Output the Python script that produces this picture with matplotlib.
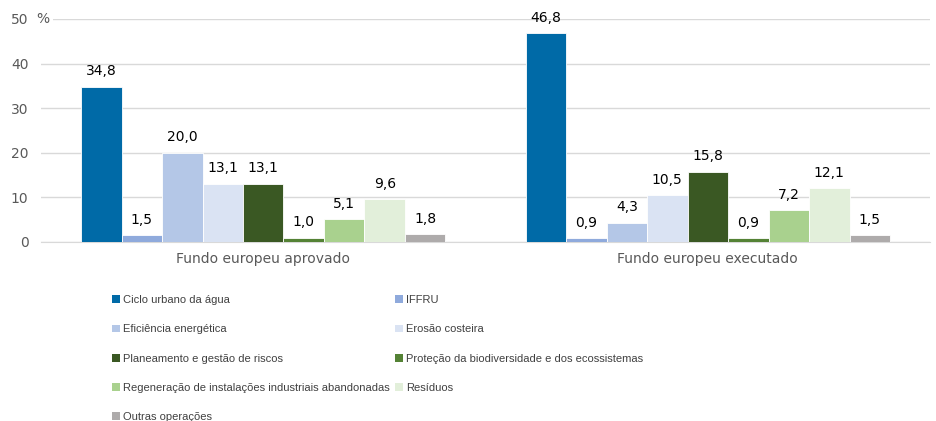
# Fundo europeu aprovado vs executado, por tipologia (%)
import numpy as np
import matplotlib.pyplot as plt
from matplotlib.patches import Patch

# Data
groups = ["Fundo europeu aprovado", "Fundo europeu executado"]
series = ["Ciclo urbano da água", "IFFRU", "Eficiência energética", "Erosão costeira",
          "Planeamento e gestão de riscos", "Proteção da biodiversidade e dos ecossistemas",
          "Regeneração de instalações industriais abandonadas", "Resíduos", "Outras operações"]
aprovado = [34.8, 1.5, 20.0, 13.1, 13.1, 1.0, 5.1, 9.6, 1.8]
executado = [46.8, 0.9, 4.3, 10.5, 15.8, 0.9, 7.2, 12.1, 1.5]
colors = ["#006AA7", "#8FAADC", "#B4C7E7", "#DAE3F3", "#3A5823",
          "#548235", "#A9D18E", "#E2EFDA", "#AEABAB"]

values = np.array([aprovado, executado])  # shape (groups, series)

fig = plt.figure(figsize=(9.36, 4.21), dpi=100)
ax = fig.add_axes([0.0438, 0.4252, 0.9498, 0.5297])

x = np.arange(len(groups))
n = len(series)
w = 0.82 / n
handles = []
for i, name in enumerate(series):
    pos = x - 0.41 + w * (i + 0.5)
    bars = ax.bar(pos, values[:, i], width=w, color=colors[i], edgecolor="white",
                  linewidth=0.6, zorder=3)
    for b, v in zip(bars, values[:, i]):
        ax.annotate(f"{v:.1f}".replace(".", ","), (b.get_x() + b.get_width() / 2, v),
                    xytext=(0, 6), textcoords="offset points", ha="center", va="bottom",
                    fontsize=10, color="#000000")
    handles.append(Patch(facecolor=colors[i], label=name))

ax.set_xlim(-0.5, 1.5)
ax.set_ylim(0, 50)
ax.set_yticks(range(0, 51, 10))
ax.yaxis.grid(True, color="#D9D9D9", linewidth=1, zorder=0)
ax.set_xticks(x)
ax.set_xticklabels(groups)
ax.tick_params(axis="both", length=0, labelsize=10, labelcolor="#595959")
ax.tick_params(axis="x", pad=7)
ax.tick_params(axis="y", pad=9)
for s in ["top", "right", "left"]:
    ax.spines[s].set_visible(False)
ax.spines["bottom"].set_color("#D9D9D9")
ax.annotate("%", (0, 50), xycoords=("axes fraction", "data"), xytext=(1, 0),
            textcoords="offset points", ha="center", va="center", fontsize=10,
            color="#595959", zorder=5,
            bbox=dict(facecolor="white", edgecolor="none", pad=3))

# legend: two columns, filled row by row
order = [0, 2, 4, 6, 8, 1, 3, 5, 7]
leg = fig.legend([handles[k] for k in order], [series[k] for k in order], ncol=2,
                 loc="upper left", bbox_to_anchor=(0.12, 0.299), frameon=False,
                 prop={"family": "Liberation Sans", "size": 8}, labelcolor="#404040",
                 handlelength=0.7, handleheight=0.7, handletextpad=0.3,
                 labelspacing=1.73, columnspacing=0.45, borderaxespad=0, borderpad=0)

fig.savefig("out.png", dpi=100)
